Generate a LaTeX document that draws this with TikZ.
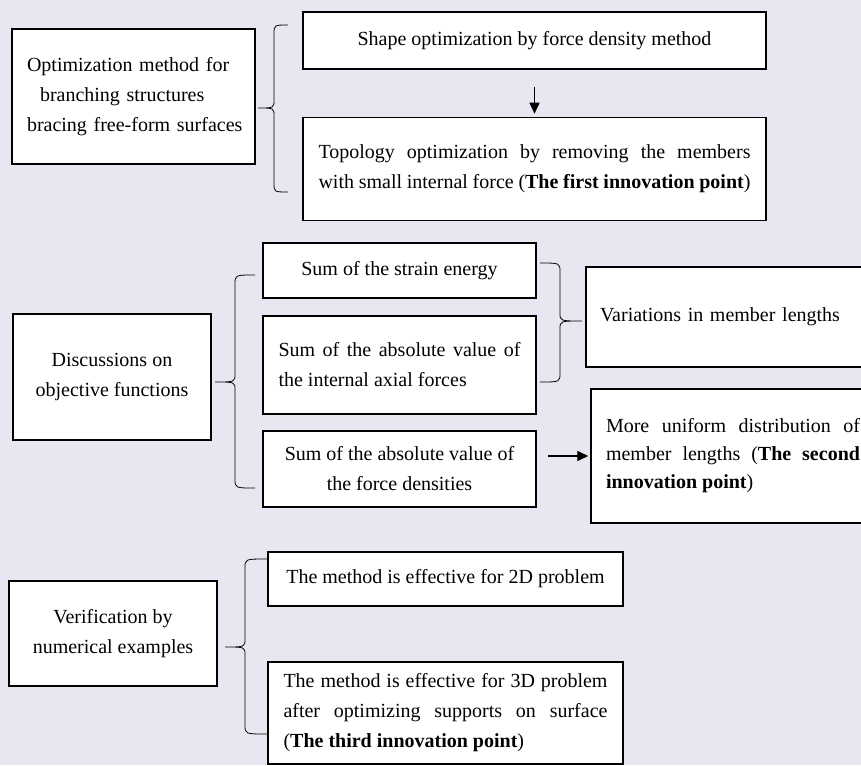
\documentclass[tikz,border=0pt]{standalone}
\usepackage{fontspec}
\setmainfont{Liberation Serif}
\usepackage{xcolor}
\usepackage{tikz}
\usetikzlibrary{arrows.meta}
\usetikzlibrary{positioning}

\definecolor{paper}{RGB}{231,231,241}

\newcommand{\boxfont}{\fontsize{20}{30}\selectfont
  \hyphenpenalty=10000\relax\exhyphenpenalty=10000\relax}
\newcommand{\tightfont}{\fontsize{20}{28}\selectfont
  \hyphenpenalty=10000\relax\exhyphenpenalty=10000\relax}

% brace: tip x, vertical x, end x, top y, middle y, bottom y
\newcommand{\brk}[6]{%
\draw [brkline] (#3,#4) .. controls (#2,#4) .. (#2,#4+9) -- (#2,#5-8)
  .. controls (#2,#5) .. (#1,#5) .. controls (#2,#5) .. (#2,#5+8)
  -- (#2,#6-9) .. controls (#2,#6) .. (#3,#6);}

\begin{document}
\begin{tikzpicture}[x=1pt,y=-1pt,
  box/.style={draw,black,line width=1.5pt,fill=white,rectangle,inner ysep=0pt,
    font=\boxfont},
  brkline/.style={black,line width=0.8pt},
  arr/.style={line width=1.4pt,-{Triangle[length=11pt,width=10pt]}}]
\path [fill=paper,use as bounding box] (0,0) rectangle (861,765);

% first group
\node [box,minimum width=243pt,minimum height=135pt,text width=225pt,inner xsep=9pt,align=left]
  (optim) at (133.5,96.5) {\hspace*{6pt}Optimization method for\\ \hspace*{19pt}branching structures\\ \hspace*{6pt}bracing free-form surfaces};
\node [box,minimum width=463pt,minimum height=57pt,align=center] (shape) at (534.5,40.5)
  {Shape optimization by force density method};
\node [box,minimum width=463pt,minimum height=103pt,text width=432pt,inner xsep=15.5pt,align=justify]
  (topo) at (534.5,169) {Topology optimization by removing the members\linebreak with small internal force (\textbf{The first innovation point})};
\draw [arr,shorten <=17pt,shorten >=3pt] (shape) -- (topo);
\brk{258}{274}{288}{25}{108}{192}

% second group
\node [box,minimum width=198pt,minimum height=126pt,align=center] (discuss) at (112,377)
  {Discussions on\\ objective functions};
\node [box,minimum width=273pt,minimum height=55pt,align=center] (strain) at (399.5,270.5)
  {Sum of the strain energy};
\node [box,minimum width=273pt,minimum height=98pt,text width=242pt,inner xsep=15.5pt,align=justify]
  (axial) at (399.5,365) {Sum of the absolute value of\linebreak the internal axial forces};
\node [box,minimum width=273pt,minimum height=76pt,align=center] (fdens) at (399.5,469)
  {Sum of the absolute value of\\ the force densities};
\node [box,minimum width=285pt,minimum height=100pt,text width=259pt,inner xsep=14pt,align=left]
  (vari) at (729.5,317) {\raisebox{-4pt}{Variations in member lengths}};
\node [box,minimum height=134pt,text width=254pt,inner xsep=15pt,align=justify,font=\tightfont]
  (unif) at (733,456) {More uniform distribution of\linebreak member lengths (\textbf{The second}\linebreak \textbf{innovation point})};
\draw [arr,shorten <=11pt,shorten >=2pt] (fdens.east |- unif.west) -- (unif.west);
\brk{215}{235}{255}{275}{382}{488}
\brk{582}{560}{540}{263}{321}{382}

% third group
\node [box,minimum width=208pt,minimum height=105pt,align=center] (verif) at (113,633.5)
  {Verification by\\ numerical examples};
\node [box,minimum width=355pt,minimum height=54pt,align=center] (twod) at (445.5,579)
  {The method is effective for 2D problem};
\node [box,minimum width=355pt,minimum height=102pt,text width=324pt,inner xsep=15.5pt,align=justify]
  (threed) at (445.5,713) {The method is effective for 3D problem\linebreak after optimizing supports on surface\linebreak (\textbf{The third innovation point})};
\brk{225}{245}{267}{559}{647}{734}
\end{tikzpicture}
\end{document}
